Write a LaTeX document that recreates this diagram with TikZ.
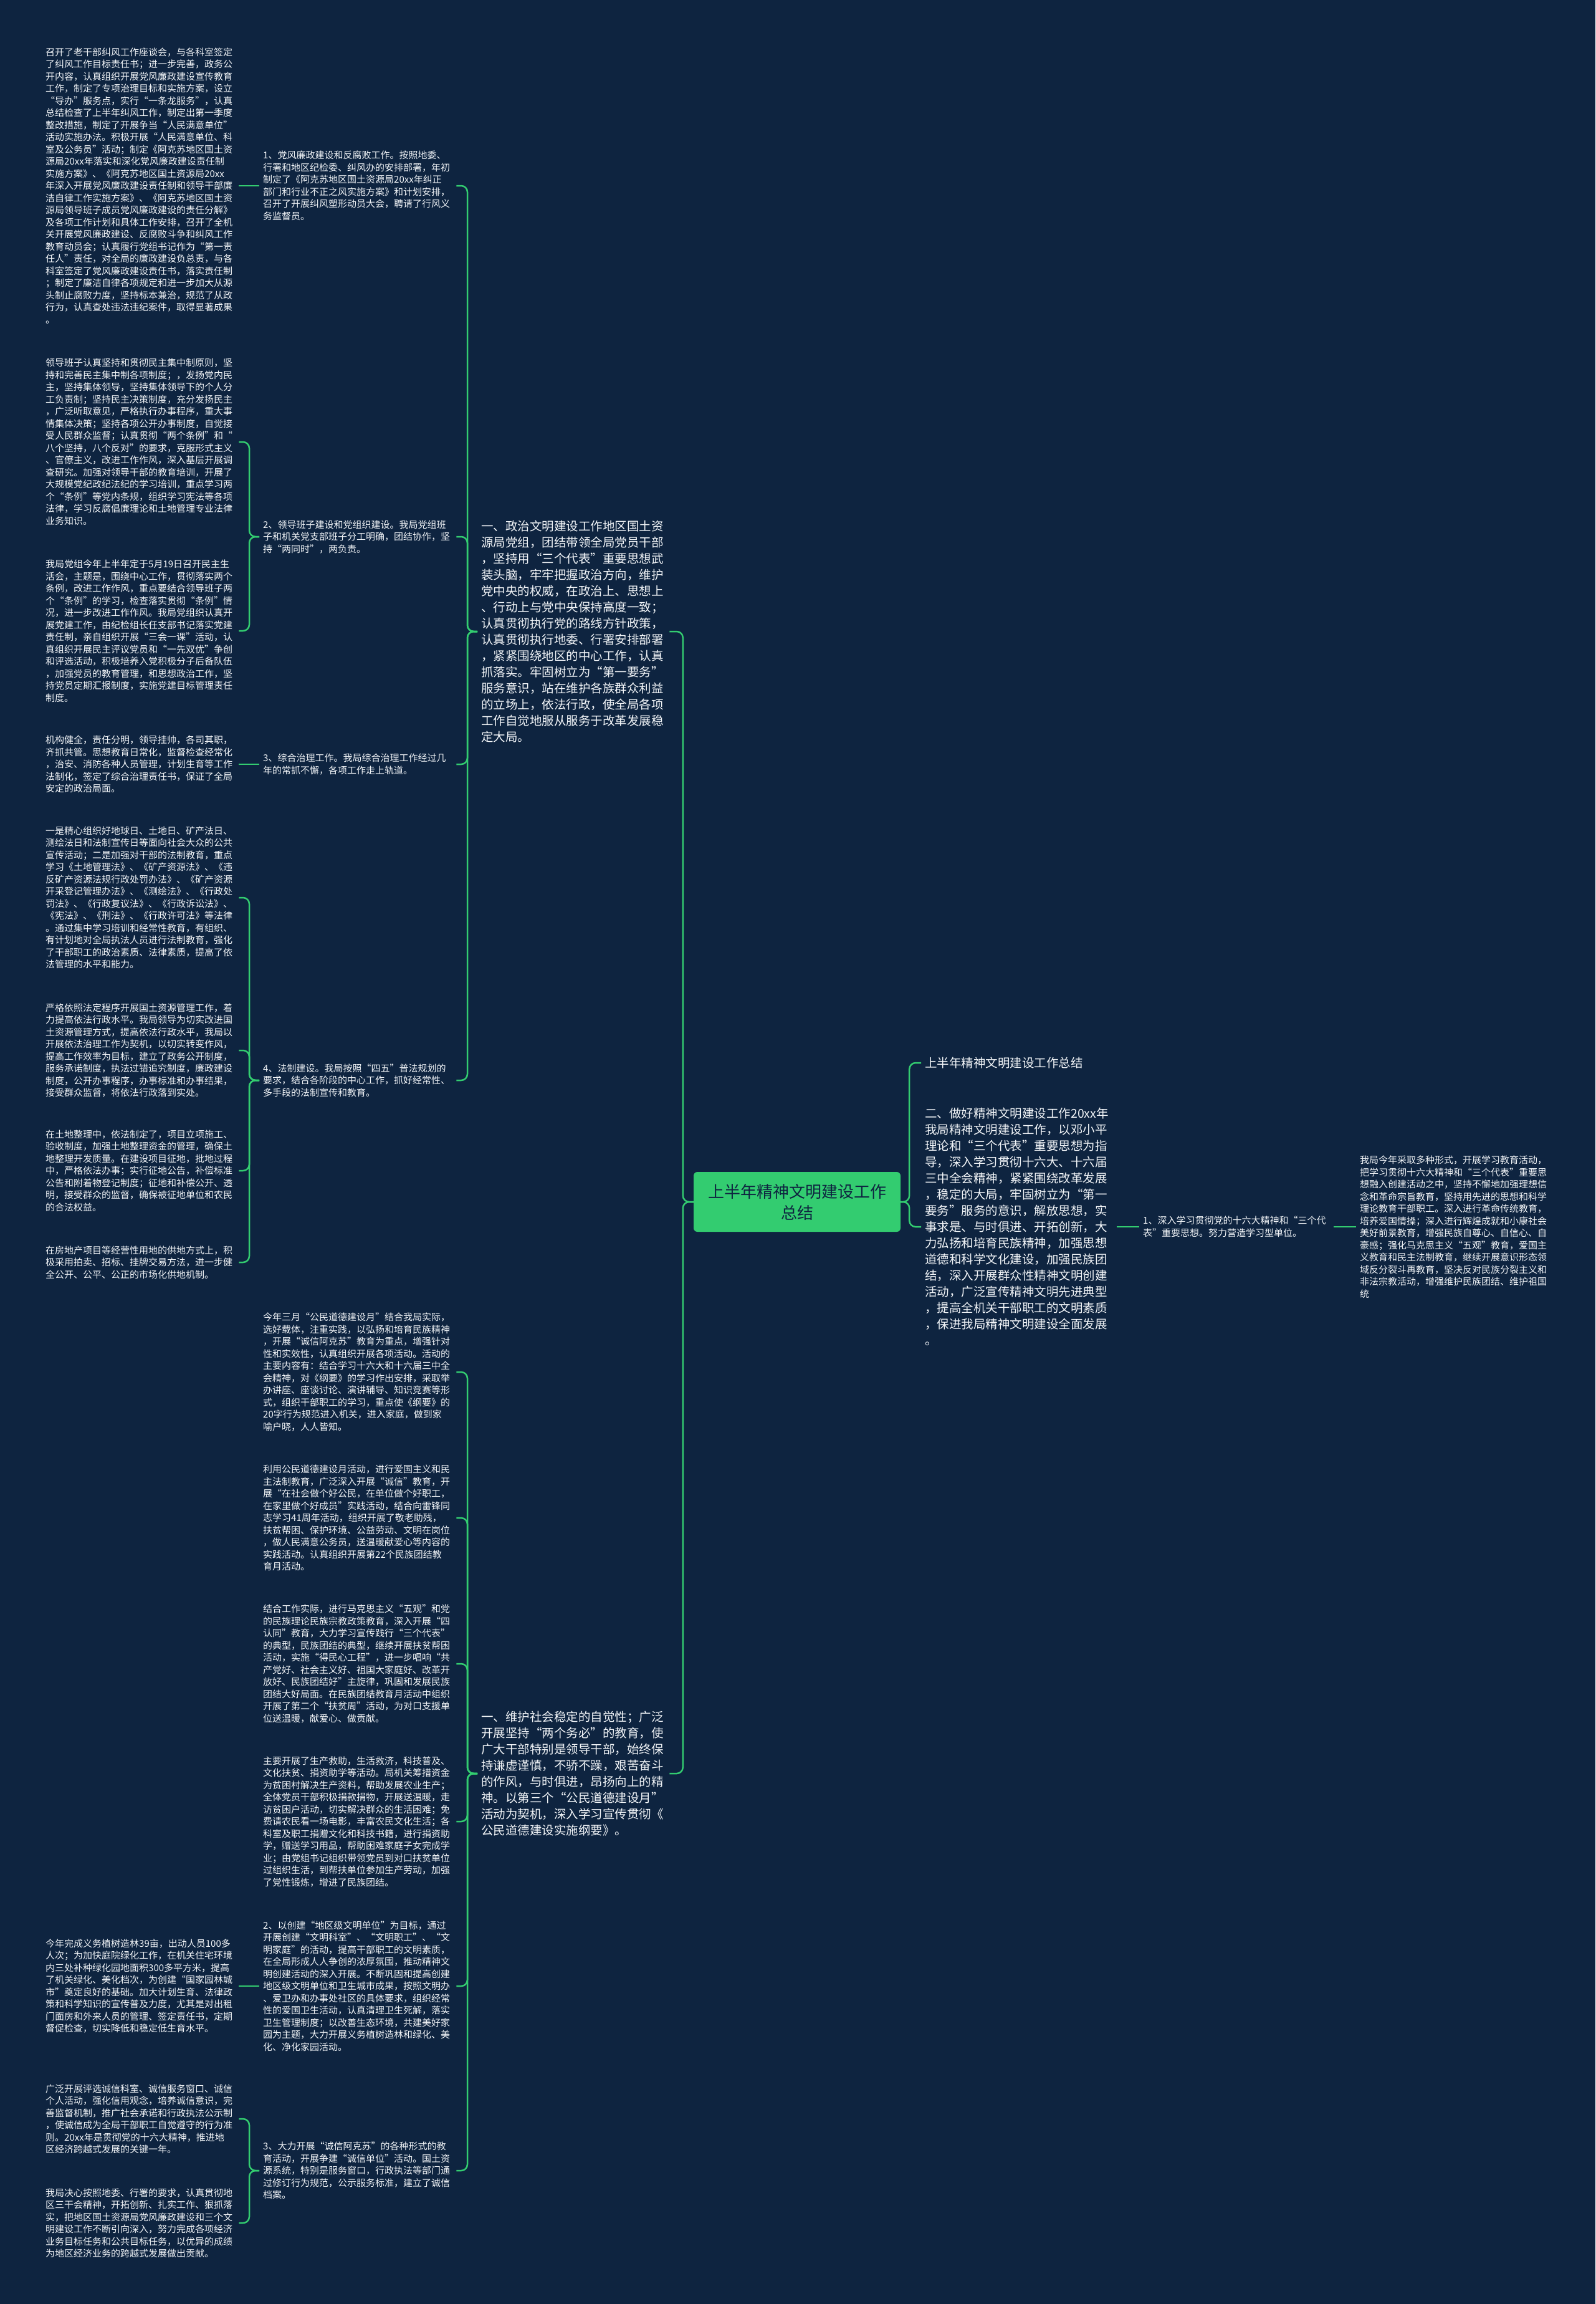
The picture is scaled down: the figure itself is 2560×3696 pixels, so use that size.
\documentclass[tikz,border=0pt]{standalone}
\usepackage{fontspec}
\setmainfont{Noto Sans CJK SC}
\definecolor{bgnavy}{HTML}{0E2440}
\definecolor{mapgreen}{HTML}{33CC70}
\definecolor{leaftext}{HTML}{F2F5F8}

\begin{document}
\begin{tikzpicture}[x=1pt, y=-1pt,
    leaf/.style={anchor=west, align=left, text width=304pt, inner xsep=6pt, inner ysep=3pt,
      text=leaftext, font=\fontsize{15pt}{19.5pt}\selectfont},
    topic/.style={anchor=west, align=left, text width=300pt, inner xsep=6pt, inner ysep=3pt,
      text=leaftext, font=\fontsize{19.5pt}{26pt}\selectfont},
    hub/.style={rectangle, rounded corners=6pt, fill=mapgreen, text=bgnavy, align=center,
      minimum width=332pt, minimum height=96pt, font=\fontsize{26pt}{34pt}\selectfont},
    link/.style={draw=mapgreen, line width=2.5pt, rounded corners=10pt}]

    % Background
    \fill[bgnavy] (0,0) rectangle (2560,3696);

    % Centre
    \node[hub] (root) at (1279,1928) {上半年精神文明建设工作\\总结};

    % Right side
    \node[topic] (r1) at (1478,1705) {上半年精神文明建设工作总结};
    \node[topic, text width=302pt] (r2) at (1478,1968) {二、做好精神文明建设工作20xx年\\我局精神文明建设工作，以邓小平\\理论和“三个代表”重要思想为指\\导，深入学习贯彻十六大、十六届\\三中全会精神，紧紧围绕改革发展\\，稳定的大局，牢固树立为“第一\\要务”服务的意识，解放思想，实\\事求是、与时俱进、开拓创新，大\\力弘扬和培育民族精神，加强思想\\道德和科学文化建设，加强民族团\\结，深入开展群众性精神文明创建\\活动，广泛宣传精神文明先进典型\\，提高全机关干部职工的文明素质\\，保进我局精神文明建设全面发展\\。};
    \node[leaf, text width=300pt] (r2a) at (1828,1968) {1、深入学习贯彻党的十六大精神和“三个代\\表”重要思想。努力营造学习型单位。};
    \node[leaf] (r2b) at (2176,1968) {我局今年采取多种形式，开展学习教育活动，\\把学习贯彻十六大精神和“三个代表”重要思\\想融入创建活动之中，坚持不懈地加强理想信\\念和革命宗旨教育，坚持用先进的思想和科学\\理论教育干部职工。深入进行革命传统教育，\\培养爱国情操；深入进行辉煌成就和小康社会\\美好前景教育，增强民族自尊心、自信心、自\\豪感；强化马克思主义“五观”教育，爱国主\\义教育和民主法制教育，继续开展意识形态领\\域反分裂斗再教育，坚决反对民族分裂主义和\\非法宗教活动，增强维护民族团结、维护祖国\\统};

    % Left side, first topic
    \node[topic, text width=296pt] (polit) at (766,1013) {一、政治文明建设工作地区国土资\\源局党组，团结带领全局党员干部\\，坚持用“三个代表”重要思想武\\装头脑，牢牢把握政治方向，维护\\党中央的权威，在政治上、思想上\\、行动上与党中央保持高度一致；\\认真贯彻执行党的路线方针政策，\\认真贯彻执行地委、行署安排部署\\，紧紧围绕地区的中心工作，认真\\抓落实。牢固树立为“第一要务”\\服务意识，站在维护各族群众利益\\的立场上，依法行政，使全局各项\\工作自觉地服从服务于改革发展稳\\定大局。};
    \node[leaf] (p1) at (416,298) {1、党风廉政建设和反腐败工作。按照地委、\\行署和地区纪检委、纠风办的安排部署，年初\\制定了《阿克苏地区国土资源局20xx年纠正\\部门和行业不正之风实施方案》和计划安排，\\召开了开展纠风塑形动员大会，聘请了行风义\\务监督员。};
    \node[leaf] (p2) at (416,861) {2、领导班子建设和党组织建设。我局党组班\\子和机关党支部班子分工明确，团结协作，坚\\持“两同时”，两负责。};
    \node[leaf] (p3) at (416,1226) {3、综合治理工作。我局综合治理工作经过几\\年的常抓不懈，各项工作走上轨道。};
    \node[leaf] (p4) at (416,1733) {4、法制建设。我局按照“四五”普法规划的\\要求，结合各阶段的中心工作，抓好经常性、\\多手段的法制宣传和教育。};

    \node[leaf] (p1a) at (67,298) {召开了老干部纠风工作座谈会，与各科室签定\\了纠风工作目标责任书；进一步完善，政务公\\开内容，认真组织开展党风廉政建设宣传教育\\工作，制定了专项治理目标和实施方案，设立\\“导办”服务点，实行“一条龙服务”，认真\\总结检查了上半年纠风工作，制定出第一季度\\整改措施，制定了开展争当“人民满意单位”\\活动实施办法。积极开展“人民满意单位、科\\室及公务员”活动；制定《阿克苏地区国土资\\源局20xx年落实和深化党风廉政建设责任制\\实施方案》、《阿克苏地区国土资源局20xx\\年深入开展党风廉政建设责任制和领导干部廉\\洁自律工作实施方案》、《阿克苏地区国土资\\源局领导班子成员党风廉政建设的责任分解》\\及各项工作计划和具体工作安排，召开了全机\\关开展党风廉政建设、反腐败斗争和纠风工作\\教育动员会；认真履行党组书记作为“第一责\\任人”责任，对全局的廉政建设负总责，与各\\科室签定了党风廉政建设责任书，落实责任制\\；制定了廉洁自律各项规定和进一步加大从源\\头制止腐败力度，坚持标本兼治，规范了从政\\行为，认真查处违法违纪案件，取得显著成果\\。};
    \node[leaf] (p2a) at (67,709) {领导班子认真坚持和贯彻民主集中制原则，坚\\持和完善民主集中制各项制度；，发扬党内民\\主，坚持集体领导，坚持集体领导下的个人分\\工负责制；坚持民主决策制度，充分发扬民主\\，广泛听取意见，严格执行办事程序，重大事\\情集体决策；坚持各项公开办事制度，自觉接\\受人民群众监督；认真贯彻“两个条例”和“\\八个坚持，八个反对”的要求，克服形式主义\\、官僚主义，改进工作作风，深入基层开展调\\查研究。加强对领导干部的教育培训，开展了\\大规模党纪政纪法纪的学习培训，重点学习两\\个“条例”等党内条规，组织学习宪法等各项\\法律，学习反腐倡廉理论和土地管理专业法律\\业务知识。};
    \node[leaf] (p2b) at (67,1012) {我局党组今年上半年定于5月19日召开民主生\\活会，主题是，围绕中心工作，贯彻落实两个\\条例，改进工作作风，重点要结合领导班子两\\个“条例”的学习，检查落实贯彻“条例”情\\况，进一步改进工作作风。我局党组织认真开\\展党建工作，由纪检组长任支部书记落实党建\\责任制，亲自组织开展“三会一课”活动，认\\真组织开展民主评议党员和“一先双优”争创\\和评选活动，积极培养入党积极分子后备队伍\\，加强党员的教育管理，和思想政治工作，坚\\持党员定期汇报制度，实施党建目标管理责任\\制度。};
    \node[leaf] (p3a) at (67,1226) {机构健全，责任分明，领导挂帅，各司其职，\\齐抓共管。思想教育日常化，监督检查经常化\\，治安、消防各种人员管理，计划生育等工作\\法制化，签定了综合治理责任书，保证了全局\\安定的政治局面。};
    \node[leaf] (p4a) at (67,1440) {一是精心组织好地球日、土地日、矿产法日、\\测绘法日和法制宣传日等面向社会大众的公共\\宣传活动；二是加强对干部的法制教育，重点\\学习《土地管理法》、《矿产资源法》、《违\\反矿产资源法规行政处罚办法》、《矿产资源\\开采登记管理办法》、《测绘法》、《行政处\\罚法》、《行政复议法》、《行政诉讼法》、\\《宪法》、《刑法》、《行政许可法》等法律\\。通过集中学习培训和经常性教育，有组织、\\有计划地对全局执法人员进行法制教育，强化\\了干部职工的政治素质、法律素质，提高了依\\法管理的水平和能力。};
    \node[leaf] (p4b) at (67,1685) {严格依照法定程序开展国土资源管理工作，着\\力提高依法行政水平。我局领导为切实改进国\\土资源管理方式，提高依法行政水平，我局以\\开展依法治理工作为契机，以切实转变作风，\\提高工作效率为目标，建立了政务公开制度，\\服务承诺制度，执法过错追究制度，廉政建设\\制度，公开办事程序，办事标准和办事结果，\\接受群众监督，将依法行政落到实处。};
    \node[leaf] (p4c) at (67,1878) {在土地整理中，依法制定了，项目立项施工、\\验收制度，加强土地整理资金的管理，确保土\\地整理开发质量。在建设项目征地，批地过程\\中，严格依法办事；实行征地公告，补偿标准\\公告和附着物登记制度；征地和补偿公开、透\\明，接受群众的监督，确保被征地单位和农民\\的合法权益。};
    \node[leaf] (p4d) at (67,2025) {在房地产项目等经营性用地的供地方式上，积\\极采用拍卖、招标、挂牌交易方法，进一步健\\全公开、公平、公正的市场化供地机制。};

    % Left side, second topic
    \node[topic, text width=296pt] (stab) at (766,2845) {一、维护社会稳定的自觉性；广泛\\开展坚持“两个务必”的教育，使\\广大干部特别是领导干部，始终保\\持谦虚谨慎，不骄不躁，艰苦奋斗\\的作风，与时俱进，昂扬向上的精\\神。以第三个“公民道德建设月”\\活动为契机，深入学习宣传贯彻《\\公民道德建设实施纲要》。};
    \node[leaf] (s1) at (416,2201) {今年三月“公民道德建设月”结合我局实际，\\选好载体，注重实践，以弘扬和培育民族精神\\，开展“诚信阿克苏”教育为重点，增强针对\\性和实效性，认真组织开展各项活动。活动的\\主要内容有：结合学习十六大和十六届三中全\\会精神，对《纲要》的学习作出安排，采取举\\办讲座、座谈讨论、演讲辅导、知识竞赛等形\\式，组织干部职工的学习，重点使《纲要》的\\20字行为规范进入机关，进入家庭，做到家\\喻户晓，人人皆知。};
    \node[leaf] (s2) at (416,2435) {利用公民道德建设月活动，进行爱国主义和民\\主法制教育，广泛深入开展“诚信”教育，开\\展“在社会做个好公民，在单位做个好职工，\\在家里做个好成员”实践活动，结合向雷锋同\\志学习41周年活动，组织开展了敬老助残，\\扶贫帮困、保护环境、公益劳动、文明在岗位\\，做人民满意公务员，送温暖献爱心等内容的\\实践活动。认真组织开展第22个民族团结教\\育月活动。};
    \node[leaf] (s3) at (416,2669) {结合工作实际，进行马克思主义“五观”和党\\的民族理论民族宗教政策教育，深入开展“四\\认同”教育，大力学习宣传践行“三个代表”\\的典型，民族团结的典型，继续开展扶贫帮困\\活动，实施“得民心工程”，进一步唱响“共\\产党好、社会主义好、祖国大家庭好、改革开\\放好、民族团结好”主旋律，巩固和发展民族\\团结大好局面。在民族团结教育月活动中组织\\开展了第二个“扶贫周”活动，为对口支援单\\位送温暖，献爱心、做贡献。};
    \node[leaf] (s4) at (416,2922) {主要开展了生产救助，生活救济，科技普及、\\文化扶贫、捐资助学等活动。局机关筹措资金\\为贫困村解决生产资料，帮助发展农业生产；\\全体党员干部积极捐款捐物，开展送温暖，走\\访贫困户活动，切实解决群众的生活困难；免\\费请农民看一场电影，丰富农民文化生活；各\\科室及职工捐赠文化和科技书籍，进行捐资助\\学，赠送学习用品，帮助困难家庭子女完成学\\业；由党组书记组织带领党员到对口扶贫单位\\过组织生活，到帮扶单位参加生产劳动，加强\\了党性锻炼，增进了民族团结。};
    \node[leaf] (s5) at (416,3186) {2、以创建“地区级文明单位”为目标，通过\\开展创建“文明科室”、“文明职工”、“文\\明家庭”的活动，提高干部职工的文明素质，\\在全局形成人人争创的浓厚氛围，推动精神文\\明创建活动的深入开展。不断巩固和提高创建\\地区级文明单位和卫生城市成果，按照文明办\\、爱卫办和办事处社区的具体要求，组织经常\\性的爱国卫生活动，认真清理卫生死解，落实\\卫生管理制度；以改善生态环境，共建美好家\\园为主题，大力开展义务植树造林和绿化、美\\化、净化家园活动。};
    \node[leaf] (s6) at (416,3482) {3、大力开展“诚信阿克苏”的各种形式的教\\育活动，开展争建“诚信单位”活动。国土资\\源系统，特别是服务窗口，行政执法等部门通\\过修订行为规范，公示服务标准，建立了诚信\\档案。};

    \node[leaf] (s5a) at (67,3186) {今年完成义务植树造林39亩，出动人员100多\\人次；为加快庭院绿化工作，在机关住宅环境\\内三处补种绿化园地面积300多平方米，提高\\了机关绿化、美化档次，为创建“国家园林城\\市”奠定良好的基础。加大计划生育、法律政\\策和科学知识的宣传普及力度，尤其是对出租\\门面房和外来人员的管理、签定责任书，定期\\督促检查，切实降低和稳定低生育水平。};
    \node[leaf] (s6a) at (67,3399) {广泛开展评选诚信科室、诚信服务窗口、诚信\\个人活动，强化信用观念，培养诚信意识，完\\善监督机制，推广社会承诺和行政执法公示制\\，使诚信成为全局干部职工自觉遵守的行为准\\则。20xx年是贯彻党的十六大精神，推进地\\区经济跨越式发展的关键一年。};
    \node[leaf] (s6b) at (67,3566) {我局决心按照地委、行署的要求，认真贯彻地\\区三干会精神，开拓创新、扎实工作、狠抓落\\实，把地区国土资源局党风廉政建设和三个文\\明建设工作不断引向深入，努力完成各项经济\\业务目标任务和公共目标任务，以优异的成绩\\为地区经济业务的跨越式发展做出贡献。};

    % Connectors, right
    \draw[link] (root.east) -- ++(14,0) |- (r1.west);
    \draw[link] (root.east) -- ++(14,0) |- (r2.west);
    \draw[link] (r2.east) -- (r2a.west);
    \draw[link] (r2a.east) -- (r2b.west);

    % Connectors, left
    \foreach \t in {polit,stab}
      \draw[link] (root.west) -- ++(-17,0) |- (\t.east);
    \foreach \c in {p1,p2,p3,p4}
      \draw[link] (polit.west) -- ++(-16,0) |- (\c.east);
    \foreach \c in {s1,s2,s3,s4,s5,s6}
      \draw[link] (stab.west) -- ++(-16,0) |- (\c.east);
    \draw[link] (p1.west) -- (p1a.east);
    \draw[link] (p3.west) -- (p3a.east);
    \draw[link] (s5.west) -- (s5a.east);
    \foreach \c in {p2a,p2b}
      \draw[link] (p2.west) -- ++(-16,0) |- (\c.east);
    \foreach \c in {p4a,p4b,p4c,p4d}
      \draw[link] (p4.west) -- ++(-16,0) |- (\c.east);
    \foreach \c in {s6a,s6b}
      \draw[link] (s6.west) -- ++(-16,0) |- (\c.east);
\end{tikzpicture}
\end{document}
